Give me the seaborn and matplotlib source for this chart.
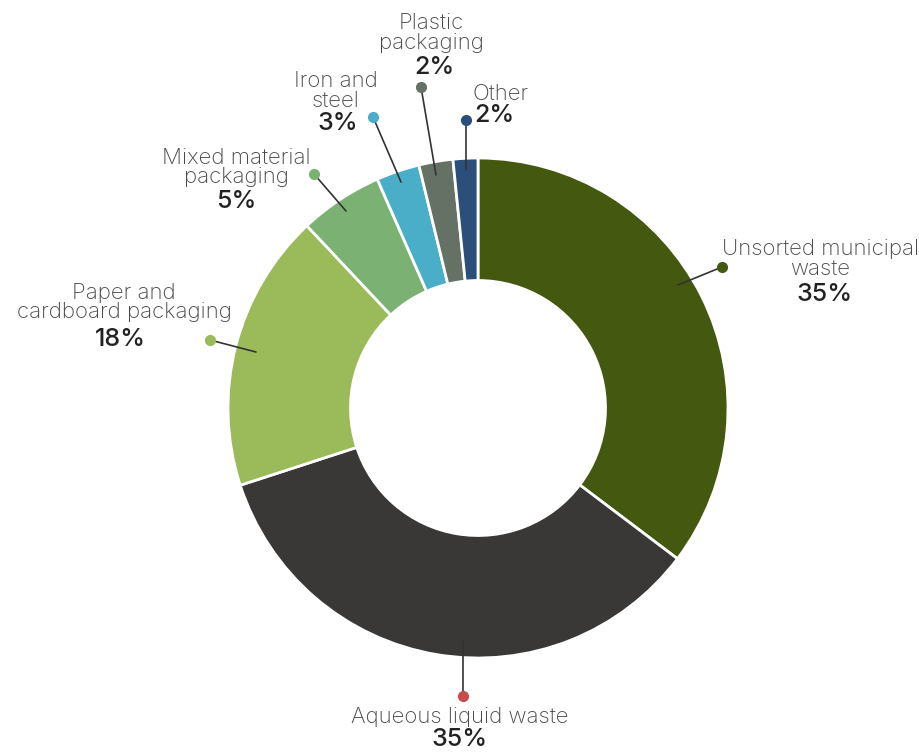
import matplotlib
matplotlib.use("Agg")
import matplotlib.pyplot as plt
import seaborn as sns

# ---- data ----
categories = ["Unsorted municipal\nwaste", "Aqueous liquid waste", "Paper and\ncardboard packaging",
              "Mixed material\npackaging", "Iron and\nsteel", "Plastic\npackaging", "Other"]
values = [35.3, 34.7, 18.0, 5.4, 2.8, 2.2, 1.6]
colors = ["#44580f", "#393836", "#9bba59", "#7bb173", "#4aaec9", "#667166", "#2b4e7a"]
dot_colors = ["#44580f", "#c84c4c", "#9bba59", "#7bb173", "#4aaec9", "#667166", "#2b4e7a"]

sns.set_theme(style="white")
plt.rcParams["font.family"] = ["Inter", "DejaVu Sans"]

W, H = 920, 752
CX, CY, R = 478, 408, 250

fig = plt.figure(figsize=(W / 100, H / 100), dpi=100)
ax = fig.add_axes([0, 0, 1, 1])

ax.pie(values, colors=colors, startangle=90, counterclock=False, radius=1.0,
       wedgeprops=dict(width=0.49, edgecolor="white", linewidth=2))

ax.set_aspect("equal", adjustable="box")
ax.set_xlim(-CX / R, (W - CX) / R)
ax.set_ylim(-(H - CY) / R, CY / R)
ax.axis("off")


def P(px, py):
    return ((px - CX) / R, (CY - py) / R)


# label layout (pixel positions): line start, dot, name xy, pct xy, alignment
layout = [
    dict(s=(678, 285), d=(722, 267), n=(820, 259), p=(825, 294), ha="center"),
    dict(s=(463, 640), d=(463, 696), n=(460, 717), p=(460, 740), ha="center"),
    dict(s=(256, 352), d=(210, 340), n=(124, 302.5), p=(120, 339), ha="center"),
    dict(s=(346, 211), d=(314, 174), n=(236, 167.5), p=(236, 201), ha="center"),
    dict(s=(401, 182), d=(373, 117), n=(336, 90.5), p=(338, 124), ha="center"),
    dict(s=(436, 175), d=(421, 87), n=(431, 33), p=(434, 67), ha="center"),
    dict(s=(466, 170), d=(466, 120), n=(472, 94), p=(474, 116), ha="left"),
]

for cat, v, dc, L in zip(categories, values, dot_colors, layout):
    x0, y0 = P(*L["s"])
    x1, y1 = P(*L["d"])
    ax.plot([x0, x1], [y0, y1], color="#333333", lw=1.2, zorder=3)
    ax.plot([x1], [y1], "o", color=dc, markersize=7, zorder=4)
    nx, ny = P(*L["n"])
    ax.text(nx, ny, cat, ha=L["ha"], va="center", fontsize=16, fontweight="light",
            color="#4a4a4a", linespacing=0.98)
    px, py = P(*L["p"])
    ax.text(px, py, f"{round(v):.0f}%", ha=L["ha"], va="center", fontsize=18,
            fontweight="medium", color="#222222")

fig.savefig("out.png", dpi=100)
